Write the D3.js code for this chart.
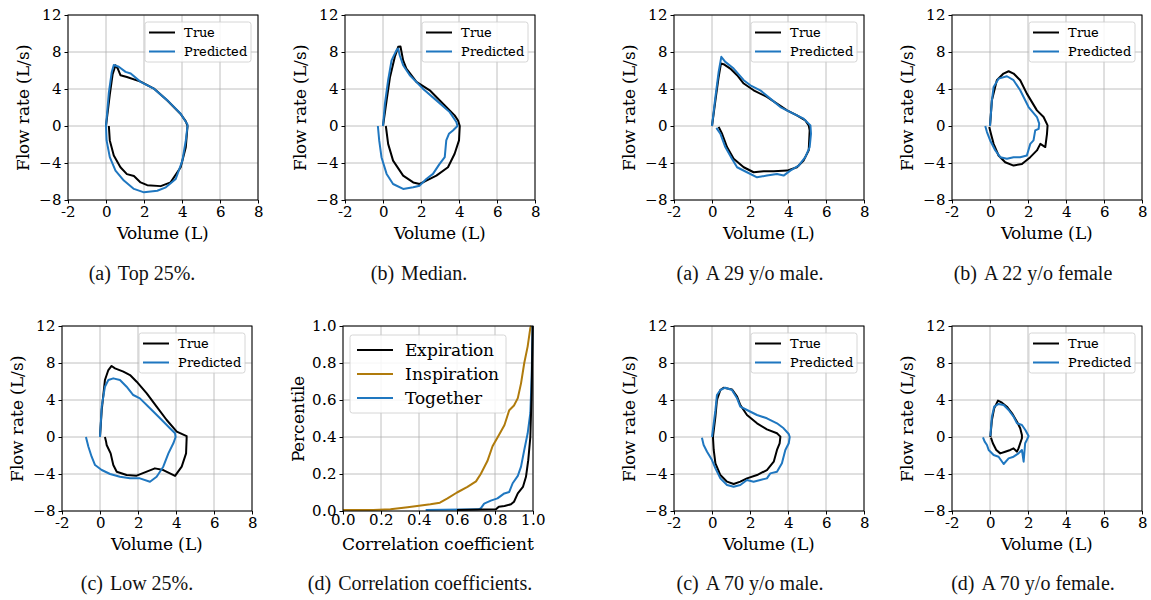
<!DOCTYPE html>
<html>
<head>
<meta charset="utf-8">
<script src="https://cdn.jsdelivr.net/npm/d3@7"></script>
<style>
  @font-face { font-family: 'DVSerif'; src: local('DejaVu Serif'); }
  body { margin: 0; background: #fff; }
  svg text { font-family: DVSerif, DejaVu Serif, serif; }
  svg text.caption { font-family: "Liberation Serif", serif; }
</style>
</head>
<body>
<svg id="chart" width="1151" height="600"></svg>
<script>
// tick values
const volumeTicks = [-2, 0, 2, 4, 6, 8];
const flowTicks = [-8, -4, 0, 4, 8, 12];
const corrTicks = [0, 0.2, 0.4, 0.6, 0.8, 1.0];

// flow-volume loops: [volume L, flow L/s]
const top25True = [[0,0],[0.2,3.4],[0.35,5.6],[0.5,6.57],[0.62,6.2],[0.76,5.49],[1.1,5.3],[1.82,4.8],[2.52,4.05],[3.23,2.75],[3.93,1.3],[4.2,0.5],[4.29,0],
  [4.2,-2.3],[3.93,-4.46],[3.4,-6.1],[2.88,-6.5],[2.17,-6.4],[1.82,-6.1],[1.47,-5.4],[1.1,-5.2],[0.76,-4.46],[0.41,-3.2],[0.2,-1.56],[0.15,0]];
const top25Pred = [[0,0],[0.15,3.6],[0.3,5.8],[0.41,6.6],[0.67,6.4],[1.03,5.85],[1.3,5.67],[1.82,4.77],[2.52,4.04],[3.23,2.77],[3.93,1.32],[4.29,0.17],[4.29,0],
  [4.2,-1.56],[4.02,-3.74],[3.67,-5.73],[3.15,-6.63],[2.7,-7.0],[2.0,-7.17],[1.47,-6.8],[0.94,-5.9],[0.5,-4.82],[0.2,-3.37],[0.03,-1.56],[0,0]];
const medianTrue = [[0,0],[0.19,2.77],[0.37,5.3],[0.62,7.47],[0.8,8.56],[0.92,8.6],[1.06,7.1],[1.23,6.2],[1.76,4.77],[2.46,3.86],[3.16,2.4],[3.77,1.15],[3.95,0.6],[4.04,0],
  [4.0,-1.56],[3.77,-3.0],[3.42,-4.46],[2.81,-5.36],[2.28,-5.9],[1.93,-6.27],[1.59,-6.1],[1.06,-5.36],[0.53,-3.74],[0.27,-1.93],[0.15,0]];
const medianPred = [[0,0],[0.1,2.4],[0.27,4.95],[0.45,7.1],[0.71,8.2],[0.8,8.38],[0.88,7.65],[1.06,6.57],[1.41,5.49],[2.1,4.04],[2.81,2.77],[3.51,1.5],[3.86,0.43],[3.92,0],
  [3.68,-0.48],[3.47,-0.84],[3.33,-1.56],[3.25,-3.37],[2.98,-4.1],[2.63,-5.18],[2.28,-5.73],[1.93,-6.45],[1.59,-6.63],[1.06,-6.8],[0.53,-6.27],[0.19,-5.18],[-0.08,-3.37],[-0.2,-1.56],[-0.27,0]];
const low25True = [[0,0],[0.09,2.9],[0.26,6.16],[0.44,7.24],[0.61,7.68],[0.79,7.42],[1.23,7.06],[1.58,6.7],[1.93,5.98],[2.46,4.72],[2.98,3.28],[3.51,1.84],[4.04,0.58],[4.56,0.1],
  [4.56,-0.14],[4.53,-1.77],[4.3,-3.2],[3.95,-4.2],[3.68,-3.93],[3.33,-3.57],[2.89,-3.39],[2.46,-3.75],[1.93,-4.18],[1.4,-4.1],[0.88,-3.75],[0.7,-3.03],[0.56,-1.77],[0.35,-0.86],[0.32,-0.5],[0.26,0]];
const low25Pred = [[0,0],[0.09,3.28],[0.26,5.44],[0.44,6.16],[0.7,6.34],[1.05,6.16],[1.4,5.44],[1.75,4.54],[2.1,4.18],[2.63,3.1],[3.16,2.02],[3.68,0.94],[3.95,0.4],[3.98,0],
  [3.86,-0.68],[3.6,-1.77],[3.33,-3.21],[2.98,-4.29],[2.63,-4.83],[2.1,-4.47],[1.58,-4.47],[1.05,-4.29],[0.53,-4.0],[0.09,-3.57],[-0.26,-3.03],[-0.44,-2.13],[-0.61,-1.05],[-0.74,0]];
const male29True = [[0,0],[0.18,2.77],[0.35,5.3],[0.47,6.75],[0.61,6.68],[0.96,6.21],[1.32,5.49],[1.67,4.59],[2.19,3.86],[2.89,3.14],[3.42,2.42],[3.95,1.69],[4.47,1.15],[4.91,0.61],[5.09,0.07],
  [5.14,-0.48],[5.09,-2.64],[4.82,-3.73],[4.47,-4.46],[3.95,-4.82],[3.25,-4.89],[2.72,-4.89],[2.19,-5.0],[1.67,-4.46],[1.14,-3.55],[0.79,-2.28],[0.53,-0.84],[0.35,-0.1]];
const male29Pred = [[0,0],[0.18,3.14],[0.35,5.85],[0.49,7.48],[0.7,6.93],[1.14,6.21],[1.67,4.95],[2.02,4.4],[2.54,3.86],[3.07,2.96],[3.6,2.05],[4.12,1.51],[4.82,0.79],[5.18,0.07],
  [5.21,-0.84],[5.14,-2.28],[4.91,-3.37],[4.56,-4.28],[4.12,-4.82],[3.77,-5.36],[3.42,-5.18],[2.89,-5.36],[2.37,-5.55],[1.84,-5.0],[1.32,-4.46],[1.05,-3.55],[0.7,-2.28],[0.44,-0.84],[0.23,-0.2]];
const female22True = [[0,0],[0.1,2.77],[0.36,4.95],[0.71,5.67],[0.98,5.92],[1.24,5.67],[1.59,4.95],[1.94,3.5],[2.47,1.69],[2.82,0.97],[3.03,0.07],
  [3.0,-0.84],[2.91,-2.28],[2.65,-1.93],[2.47,-2.64],[2.12,-3.37],[1.68,-4.1],[1.24,-4.28],[0.8,-3.92],[0.45,-3.19],[0.19,-1.93],[0.05,-0.84],[-0.04,-0.1]];
const female22Pred = [[0,0],[0.1,2.77],[0.19,4.22],[0.45,5.12],[0.89,5.38],[1.24,4.95],[1.59,3.86],[2.03,2.05],[2.47,0.97],[2.59,0.25],
  [2.56,-0.3],[2.38,-0.48],[2.29,-1.56],[2.12,-1.93],[1.94,-3.19],[1.59,-3.37],[1.24,-3.37],[0.89,-3.55],[0.54,-3.37],[0.28,-2.64],[0.01,-1.56],[-0.16,-0.66],[-0.25,0]];
const male70True = [[0.05,0],[0.18,2.2],[0.26,4.0],[0.44,5.08],[0.61,5.33],[1.05,5.15],[1.32,4.36],[1.49,3.46],[1.84,2.38],[2.37,1.48],[2.89,0.83],[3.42,0.4],[3.6,0.04],
  [3.56,-0.68],[3.42,-1.4],[3.25,-2.67],[2.89,-3.57],[2.37,-4.11],[1.84,-4.47],[1.49,-4.83],[1.14,-5.08],[0.79,-4.83],[0.44,-4.11],[0.18,-2.85],[0.09,-1.4],[0.05,0]];
const male70Pred = [[0,0],[0.18,2.9],[0.26,4.54],[0.44,5.08],[0.7,5.33],[1.05,5.08],[1.32,4.18],[1.49,3.28],[1.84,2.92],[2.37,2.38],[2.89,2.02],[3.42,1.48],[3.77,0.94],[4.04,0.32],[4.09,0],
  [4.04,-0.68],[3.86,-1.4],[3.68,-2.85],[3.42,-3.75],[3.07,-3.93],[2.89,-4.47],[2.54,-4.65],[2.19,-4.83],[1.84,-4.65],[1.49,-5.19],[1.14,-5.37],[0.79,-5.19],[0.44,-4.47],[0.18,-3.39],[0,-2.49],[-0.26,-1.59],[-0.44,-0.86],[-0.53,-0.07]];
const female70True = [[0.02,0],[0.1,1.84],[0.22,3.1],[0.42,3.93],[0.63,3.71],[0.89,3.28],[1.16,2.56],[1.42,1.66],[1.59,0.94],[1.68,0.22],[1.68,-0.14],
  [1.59,-0.68],[1.5,-1.23],[1.42,-1.59],[1.24,-1.23],[1.07,-1.4],[0.8,-1.59],[0.54,-1.77],[0.33,-1.4],[0.15,-0.68],[0.05,-0.07]];
const female70Pred = [[0.02,0.1],[0.1,2.2],[0.22,3.28],[0.45,3.57],[0.72,3.46],[0.98,2.92],[1.24,2.2],[1.42,1.48],[1.68,1.3],[1.86,0.76],[2.03,0.1],
  [1.94,-0.32],[1.85,-0.68],[1.77,-2.67],[1.68,-1.4],[1.5,-1.77],[1.24,-2.13],[0.98,-2.31],[0.72,-2.92],[0.45,-2.13],[0.19,-1.95],[-0.07,-1.4],[-0.16,-0.86],[-0.28,-0.5],[-0.37,-0.04]];

// CDFs of correlation coefficients: [coefficient, percentile]
const expirationCdf = [[0.6,0.005],[0.805,0.009],[0.82,0.023],[0.85,0.027],[0.884,0.036],[0.9,0.05],[0.92,0.095],[0.947,0.13],[0.963,0.185],[0.975,0.275],[0.986,0.4],[0.993,0.64],[0.998,1.0]];
const inspirationCdf = [[0,0.005],[0.16,0.005],[0.25,0.009],[0.34,0.02],[0.39,0.027],[0.46,0.036],[0.51,0.045],[0.55,0.068],[0.6,0.1],[0.655,0.13],[0.7,0.16],[0.725,0.2],[0.76,0.27],[0.787,0.35],[0.82,0.41],[0.85,0.465],[0.875,0.545],[0.9,0.57],[0.92,0.61],[0.937,0.69],[0.954,0.8],[0.972,0.89],[0.986,0.99],[0.99,1.0]];
const togetherCdf = [[0.435,0.005],[0.71,0.009],[0.725,0.014],[0.743,0.04],[0.778,0.056],[0.813,0.068],[0.849,0.095],[0.875,0.103],[0.893,0.15],[0.92,0.19],[0.937,0.24],[0.954,0.33],[0.972,0.42],[0.986,0.53],[0.993,0.73],[0.998,1.0]];

const BLACK = '#000000', BLUE = '#1f77c0', BROWN = '#b07b0c';

const svg = d3.select('#chart');

const loopPanels = [
  {x: 68, y: 15, cap: '(a)', text: 'Top 25%.', cx: 142, cy: 280, t: top25True, p: top25Pred},
  {x: 345, y: 15, cap: '(b)', text: 'Median.', cx: 419, cy: 280, t: medianTrue, p: medianPred},
  {x: 62, y: 326, cap: '(c)', text: 'Low 25%.', cx: 137, cy: 590, t: low25True, p: low25Pred},
  {x: 674, y: 15, cap: '(a)', text: 'A 29 y/o male.', cx: 750, cy: 280, t: male29True, p: male29Pred},
  {x: 952, y: 15, cap: '(b)', text: 'A 22 y/o female', cx: 1033, cy: 280, t: female22True, p: female22Pred},
  {x: 674, y: 326, cap: '(c)', text: 'A 70 y/o male.', cx: 750, cy: 590, t: male70True, p: male70Pred},
  {x: 952, y: 326, cap: '(d)', text: 'A 70 y/o female.', cx: 1033, cy: 590, t: female70True, p: female70Pred}
];

const W = 190, H = 185;

function drawAxes(g, x, y, xTicks, yTicks, xFmt, yFmt, xLabel, yLabel) {
  // grid
  g.append('g').selectAll('line').data(xTicks).enter().append('line')
    .attr('x1', d => x(d)).attr('x2', d => x(d)).attr('y1', 0).attr('y2', H)
    .attr('stroke', '#b0b0b0').attr('stroke-width', 0.8);
  g.append('g').selectAll('line').data(yTicks).enter().append('line')
    .attr('y1', d => y(d)).attr('y2', d => y(d)).attr('x1', 0).attr('x2', W)
    .attr('stroke', '#b0b0b0').attr('stroke-width', 0.8);

  const ax = g.append('g').attr('class', 'xaxis').attr('transform', `translate(0,${H})`)
    .call(d3.axisBottom(x).tickValues(xTicks).tickFormat(xFmt).tickSize(3.5).tickPadding(3));
  const ay = g.append('g')
    .call(d3.axisLeft(y).tickValues(yTicks).tickFormat(yFmt).tickSize(3.5).tickPadding(3));
  [ax, ay].forEach(a => {
    a.attr('font-family', null);
    a.select('.domain').remove();
    a.selectAll('text').attr('font-size', 14.5).attr('fill', '#000');
    a.selectAll('line').attr('stroke', '#000');
  });

  g.append('text').attr('x', W / 2).attr('y', H + 33).attr('dy', '0.35em')
    .attr('text-anchor', 'middle').attr('font-size', 16.5).text(xLabel);
  g.append('text').attr('transform', `translate(-45,${H / 2}) rotate(-90)`)
    .attr('text-anchor', 'middle').attr('dy', '0.35em').attr('font-size', 16.5).text(yLabel);
  return ax;
}

function drawFrame(g) {
  g.append('rect').attr('width', W).attr('height', H)
    .attr('fill', 'none').attr('stroke', '#000').attr('stroke-width', 1);
}

function drawLegend(g, items, opt) {
  const lg = g.append('g');
  const box = lg.append('rect').attr('rx', 2.5)
    .attr('fill', 'rgba(255,255,255,0.85)').attr('stroke', '#cccccc').attr('stroke-width', 0.8);
  let maxW = 0;
  items.forEach((it, i) => {
    const yy = opt.padY + opt.row / 2 + i * opt.row;
    lg.append('line').attr('x1', opt.padX).attr('x2', opt.padX + opt.len)
      .attr('y1', yy).attr('y2', yy).attr('stroke', it.color).attr('stroke-width', opt.lw);
    const t = lg.append('text').attr('x', opt.padX + opt.len + opt.gap).attr('y', yy)
      .attr('dy', '0.35em').attr('font-size', opt.fs).text(it.label);
    maxW = Math.max(maxW, t.node().getComputedTextLength());
  });
  const bw = opt.padX + opt.len + opt.gap + maxW + opt.padX;
  const bh = opt.padY * 2 + opt.row * items.length;
  box.attr('width', bw).attr('height', bh);
  const lx = opt.anchor === 'right' ? W - opt.off - bw : opt.off;
  lg.attr('transform', `translate(${lx},${opt.offY})`);
}

function caption(cx, cy, cap, text) {
  const t = svg.append('text').attr('class', 'caption')
    .attr('x', cx).attr('y', cy).attr('text-anchor', 'middle')
    .attr('font-size', 20).attr('fill', '#111');
  t.append('tspan').text(cap);
  t.append('tspan').attr('dx', 7).text(text);
}

const hyphen = d => String(d).replace('\u2212', '-');
const minus = d => d < 0 ? '\u2212' + Math.abs(d) : String(d);

loopPanels.forEach(pn => {
  const g = svg.append('g').attr('transform', `translate(${pn.x},${pn.y})`);
  const x = d3.scaleLinear().domain([-2, 8]).range([0, W]);
  const y = d3.scaleLinear().domain([-8, 12]).range([H, 0]);
  drawAxes(g, x, y, volumeTicks, flowTicks, hyphen, minus, 'Volume (L)', 'Flow rate (L/s)');
  const line = d3.line().x(d => x(d[0])).y(d => y(d[1]));
  g.append('path').datum(pn.t).attr('d', line).attr('fill', 'none')
    .attr('stroke', BLACK).attr('stroke-width', 2).attr('stroke-linejoin', 'round');
  g.append('path').datum(pn.p).attr('d', line).attr('fill', 'none')
    .attr('stroke', BLUE).attr('stroke-width', 2).attr('stroke-linejoin', 'round');
  drawFrame(g);
  drawLegend(g, [{label: 'True', color: BLACK}, {label: 'Predicted', color: BLUE}],
    {padX: 4, padY: 1, row: 19, len: 26, gap: 9, fs: 12.5, lw: 2, anchor: 'right', off: 7, offY: 7});
  caption(pn.cx, pn.cy, pn.cap, pn.text);
});

// correlation panel
{
  const g = svg.append('g').attr('transform', 'translate(343,326)');
  const x = d3.scaleLinear().domain([0, 1]).range([0, W]);
  const y = d3.scaleLinear().domain([0, 1]).range([H, 0]);
  const ax = drawAxes(g, x, y, corrTicks, corrTicks, d3.format('.1f'), d3.format('.1f'), 'Correlation coefficient', 'Percentile');
  ax.selectAll('text').attr('dy', '0.55em');
  const line = d3.line().x(d => x(d[0])).y(d => y(d[1]));
  [[inspirationCdf, BROWN], [togetherCdf, BLUE], [expirationCdf, BLACK]].forEach(([d, c]) => {
    g.append('path').datum(d).attr('d', line).attr('fill', 'none')
      .attr('stroke', c).attr('stroke-width', 2).attr('stroke-linejoin', 'round');
  });
  drawFrame(g);
  drawLegend(g, [{label: 'Expiration', color: BLACK}, {label: 'Inspiration', color: BROWN}, {label: 'Together', color: BLUE}],
    {padX: 7, padY: 3, row: 24, len: 36, gap: 12, fs: 16.5, lw: 2, anchor: 'left', off: 7, offY: 9});
  caption(420, 590, '(d)', 'Correlation coefficients.');
}
</script>
</body>
</html>
